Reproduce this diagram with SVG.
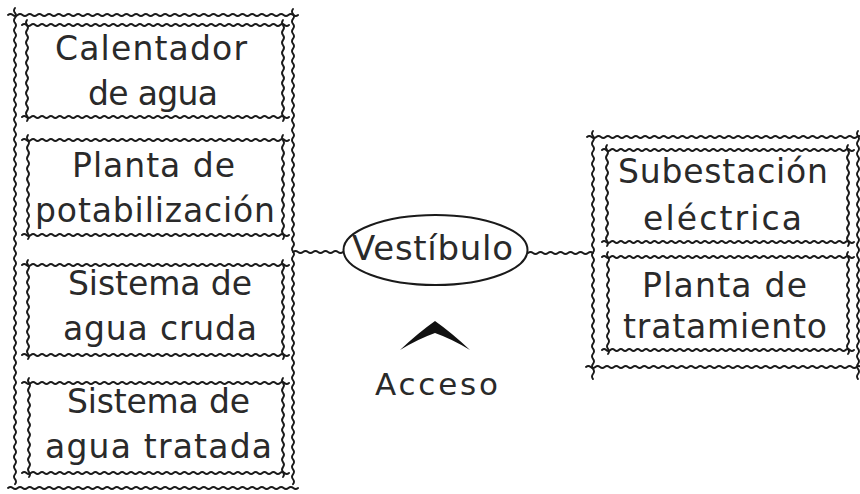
<svg xmlns="http://www.w3.org/2000/svg" width="860" height="494" viewBox="0 0 860 494">
<style>
.w{fill:none;stroke:#1a1a1a;stroke-width:1.9;stroke-linecap:round;vector-effect:non-scaling-stroke}
.lbl{font-family:"DejaVu Sans","Liberation Sans",sans-serif;font-size:33px;fill:#2a2a2a;text-anchor:middle}
.conn{fill:none;stroke:#1a1a1a;stroke-width:1.9;stroke-linecap:round}
</style>
<defs>
<path id="wh" class="w" d="M0,0 q2.5,-2 5,0 t5,0 t5,0 t5,0 t5,0 t5,0 t5,0 t5,0 t5,0 t5,0 t5,0 t5,0 t5,0 t5,0 t5,0 t5,0 t5,0 t5,0 t5,0 t5,0 t5,0 t5,0 t5,0 t5,0 t5,0 t5,0 t5,0 t5,0 t5,0 t5,0 t5,0 t5,0 t5,0 t5,0 t5,0 t5,0 t5,0 t5,0 t5,0 t5,0 t5,0 t5,0 t5,0 t5,0 t5,0 t5,0 t5,0 t5,0 t5,0 t5,0 t5,0 t5,0 t5,0 t5,0 t5,0 t5,0 t5,0 t5,0 t5,0 t5,0"/>
<path id="wv100" class="w" d="M0,0 q-2,2.5 0,5 t0,5 t0,5 t0,5 t0,5 t0,5 t0,5 t0,5 t0,5 t0,5 t0,5 t0,5 t0,5 t0,5 t0,5 t0,5 t0,5 t0,5 t0,5 t0,5"/>
<path id="wv240" class="w" d="M0,0 q-2,2.5 0,5 t0,5 t0,5 t0,5 t0,5 t0,5 t0,5 t0,5 t0,5 t0,5 t0,5 t0,5 t0,5 t0,5 t0,5 t0,5 t0,5 t0,5 t0,5 t0,5 t0,5 t0,5 t0,5 t0,5 t0,5 t0,5 t0,5 t0,5 t0,5 t0,5 t0,5 t0,5 t0,5 t0,5 t0,5 t0,5 t0,5 t0,5 t0,5 t0,5 t0,5 t0,5 t0,5 t0,5 t0,5 t0,5 t0,5 t0,5 t0,5"/>
<path id="wv490" class="w" d="M0,0 q-2,2.5 0,5 t0,5 t0,5 t0,5 t0,5 t0,5 t0,5 t0,5 t0,5 t0,5 t0,5 t0,5 t0,5 t0,5 t0,5 t0,5 t0,5 t0,5 t0,5 t0,5 t0,5 t0,5 t0,5 t0,5 t0,5 t0,5 t0,5 t0,5 t0,5 t0,5 t0,5 t0,5 t0,5 t0,5 t0,5 t0,5 t0,5 t0,5 t0,5 t0,5 t0,5 t0,5 t0,5 t0,5 t0,5 t0,5 t0,5 t0,5 t0,5 t0,5 t0,5 t0,5 t0,5 t0,5 t0,5 t0,5 t0,5 t0,5 t0,5 t0,5 t0,5 t0,5 t0,5 t0,5 t0,5 t0,5 t0,5 t0,5 t0,5 t0,5 t0,5 t0,5 t0,5 t0,5 t0,5 t0,5 t0,5 t0,5 t0,5 t0,5 t0,5 t0,5 t0,5 t0,5 t0,5 t0,5 t0,5 t0,5 t0,5 t0,5 t0,5 t0,5 t0,5 t0,5 t0,5 t0,5"/>
</defs>
<rect width="860" height="494" fill="#ffffff"/>
<g id="left-group">
<use href="#wh" transform="translate(8,15) scale(0.967,1)"/>
<use href="#wh" transform="translate(8,488) scale(0.967,1)"/>
<use href="#wv490" transform="translate(15,8) scale(1,0.992)"/>
<use href="#wv490" transform="translate(293,9) scale(1,0.99)"/>
</g>
<g id="calentador">
<use href="#wh" transform="translate(22,25) scale(0.89,1)"/>
<use href="#wh" transform="translate(22,117) scale(0.89,1)"/>
<use href="#wv100" transform="translate(27,20) scale(1,1.01)"/>
<use href="#wv100" transform="translate(283,20) scale(1,1.01)"/>
<text class="lbl" x="151" y="60" textLength="192" lengthAdjust="spacing">Calentador</text>
<text class="lbl" x="153" y="105" textLength="130" lengthAdjust="spacing">de agua</text>
</g>
<g id="potabilizacion">
<use href="#wh" transform="translate(22,140) scale(0.89,1)"/>
<use href="#wh" transform="translate(22,235) scale(0.89,1)"/>
<use href="#wv100" transform="translate(28,135) scale(1,1.04)"/>
<use href="#wv100" transform="translate(283,135) scale(1,1.04)"/>
<text class="lbl" x="153.5" y="177" textLength="163" lengthAdjust="spacing">Planta de</text>
<text class="lbl" x="155" y="222" textLength="240" lengthAdjust="spacing">potabilización</text>
</g>
<g id="agua-cruda">
<use href="#wh" transform="translate(22,265) scale(0.89,1)"/>
<use href="#wh" transform="translate(22,355) scale(0.89,1)"/>
<use href="#wv100" transform="translate(28,260) scale(1,0.99)"/>
<use href="#wv100" transform="translate(283,260) scale(1,0.99)"/>
<text class="lbl" x="160" y="295" textLength="184" lengthAdjust="spacing">Sistema de</text>
<text class="lbl" x="160" y="340" textLength="194" lengthAdjust="spacing">agua cruda</text>
</g>
<g id="agua-tratada">
<use href="#wh" transform="translate(22,383) scale(0.89,1)"/>
<use href="#wh" transform="translate(22,473) scale(0.89,1)"/>
<use href="#wv100" transform="translate(29,378) scale(1,0.99)"/>
<use href="#wv100" transform="translate(283,378) scale(1,0.99)"/>
<text class="lbl" x="158.5" y="413" textLength="183" lengthAdjust="spacing">Sistema de</text>
<text class="lbl" x="158.5" y="458" textLength="227" lengthAdjust="spacing">agua tratada</text>
</g>
<g id="right-group">
<use href="#wh" transform="translate(587,137) scale(0.93,1)"/>
<use href="#wh" transform="translate(586,367) scale(0.933,1)"/>
<use href="#wv240" transform="translate(593,131) scale(1,1.0125)"/>
<use href="#wv240" transform="translate(858,131) scale(1,1.0125)"/>
</g>
<g id="subestacion">
<use href="#wh" transform="translate(602,150) scale(0.84,1)"/>
<use href="#wh" transform="translate(602,242) scale(0.84,1)"/>
<use href="#wv100" transform="translate(607,145) scale(1,1.01)"/>
<use href="#wv100" transform="translate(848,145) scale(1,1.01)"/>
<text class="lbl" x="723" y="183" textLength="210" lengthAdjust="spacing">Subestación</text>
<text class="lbl" x="722.5" y="230" textLength="159" lengthAdjust="spacing">eléctrica</text>
</g>
<g id="tratamiento">
<use href="#wh" transform="translate(602,257) scale(0.84,1)"/>
<use href="#wh" transform="translate(602,350) scale(0.84,1)"/>
<use href="#wv100" transform="translate(608,252) scale(1,1.02)"/>
<use href="#wv100" transform="translate(848,252) scale(1,1.02)"/>
<text class="lbl" x="724.5" y="297" textLength="165" lengthAdjust="spacing">Planta de</text>
<text class="lbl" x="725" y="338" textLength="204" lengthAdjust="spacing">tratamiento</text>
</g>
<g id="connectors">
<path class="conn" d="M293,252 q2.5,-2 5,0 t5,0 t5,0 t5,0 t5,0 t5,0 t5,0 t5,0 t5,0 t5,0"/>
<path class="conn" d="M528,253 q2.5,-2 5,0 t5,0 t5,0 t5,0 t5,0 t5,0 t5,0 t5,0 t5,0 t5,0 t5,0 t5,0 t5,0"/>
</g>
<g id="vestibulo">
<ellipse cx="435.5" cy="250" rx="92" ry="35" fill="#ffffff" stroke="#1a1a1a" stroke-width="2"/>
<text class="lbl" x="432.5" y="260" style="font-size:34px" textLength="161" lengthAdjust="spacing">Vestíbulo</text>
</g>
<g id="acceso">
<path d="M400,350 Q418,333 435,321 Q452,333 470,350 Q452,339 435,333 Q418,339 400,350 Z" fill="#111111"/>
<text class="lbl" x="436.5" y="395" style="font-size:31px" textLength="123" lengthAdjust="spacing">Acceso</text>
</g>
</svg>
